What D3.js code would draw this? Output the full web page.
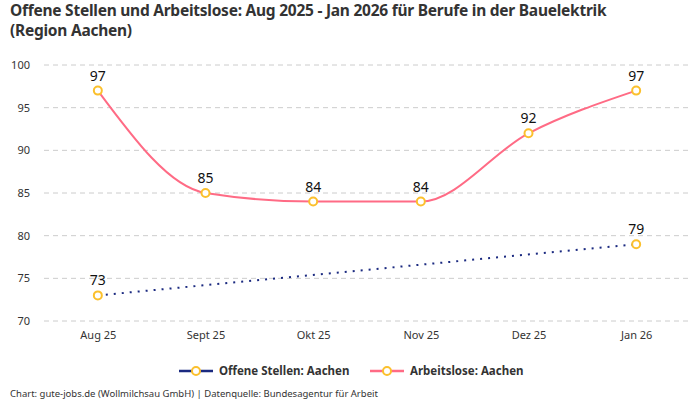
<!doctype html>
<html lang="de">
<head>
<meta charset="UTF-8" />
<title>Offene Stellen und Arbeitslose</title>
<script src="https://d3js.org/d3.v7.min.js"></script>
<style>
    body, html {
        margin: 0;
        padding: 0;
        background: #fff;
        overflow: hidden;
    }
    svg {
        display: block;
        font-family: "Noto Sans", "DejaVu Sans", sans-serif;
    }
    .grid line {
        stroke: #ccc;
        stroke-dasharray: 5 4;
    }
</style>
</head>
<body>
<svg id="chart" width="700" height="400"></svg>
<script>
    // data
    const months = ["Aug 25", "Sept 25", "Okt 25", "Nov 25", "Dez 25", "Jan 26"];
    const offeneStellen = [73, null, null, null, null, 79];
    const arbeitslose = [97, 85, 84, 84, 92, 97];
    const yTicks = [70, 75, 80, 85, 90, 95, 100];
    const titleLines = [
        "Offene Stellen und Arbeitslose: Aug 2025 - Jan 2026 für Berufe in der Bauelektrik",
        "(Region Aachen)"
    ];
    const seriesNames = ["Offene Stellen: Aachen", "Arbeitslose: Aachen"];
    const seriesColors = ["#1b2a80", "#ff6b85"];

    const svg = d3.select("#chart");
    const plotLeft = 44, plotRight = 690, plotTop = 65, plotBottom = 321;

    const x = d3.scalePoint().domain(months).range([plotLeft, plotRight]).padding(0.5);
    const y = d3.scaleLinear().domain([70, 100]).range([plotBottom, plotTop]);

    // title, one text per line
    svg.append("g").selectAll("text")
        .data(titleLines)
        .join("text")
        .attr("x", 10)
        .attr("y", (d, i) => 16 + i * 20)
        .attr("font-size", 15.5)
        .attr("letter-spacing", -0.25)
        .attr("font-weight", "bold")
        .attr("fill", "#333")
        .text(d => d);

    // grid lines
    svg.append("g")
        .attr("class", "grid")
        .selectAll("line")
        .data(yTicks)
        .join("line")
        .attr("x1", plotLeft)
        .attr("x2", 692)
        .attr("y1", d => y(d))
        .attr("y2", d => y(d));

    // y axis
    const yAxis = svg.append("g")
        .attr("transform", `translate(${plotLeft - 14},0)`)
        .call(d3.axisLeft(y).tickValues(yTicks).tickSize(0).tickPadding(0));
    yAxis.select(".domain").remove();
    yAxis.selectAll("text").attr("font-size", 11).attr("fill", "#333")
        .attr("font-family", "Noto Sans, sans-serif");

    // x axis
    const xAxis = svg.append("g")
        .attr("transform", `translate(0,${plotBottom})`)
        .call(d3.axisBottom(x).tickSize(0).tickPadding(10));
    xAxis.select(".domain").remove();
    xAxis.selectAll("text").attr("font-size", 11).attr("fill", "#333")
        .attr("font-family", "Noto Sans, sans-serif");

    // Offene Stellen: only endpoints known, straight dotted line
    const osPoints = months.map((m, i) => ({ m, v: offeneStellen[i] })).filter(d => d.v != null);
    svg.append("path")
        .datum(osPoints)
        .attr("fill", "none")
        .attr("stroke", seriesColors[0])
        .attr("stroke-width", 2)
        .attr("stroke-dasharray", "2 6")
        .attr("d", d3.line().x(d => x(d.m)).y(d => y(d.v)));

    // Arbeitslose: smooth line
    const alPoints = months.map((m, i) => ({ m, v: arbeitslose[i] }));
    svg.append("path")
        .datum(alPoints)
        .attr("fill", "none")
        .attr("stroke", seriesColors[1])
        .attr("stroke-width", 2)
        .attr("d", d3.line().curve(d3.curveMonotoneX).x(d => x(d.m)).y(d => y(d.v)));

    // markers and labels
    [osPoints, alPoints].forEach(pts => {
        svg.append("g").selectAll("circle")
            .data(pts)
            .join("circle")
            .attr("cx", d => x(d.m))
            .attr("cy", d => y(d.v))
            .attr("r", 4)
            .attr("fill", "#fff")
            .attr("stroke", "#fbc02d")
            .attr("stroke-width", 2);

        svg.append("g").selectAll("text")
            .data(pts)
            .join("text")
            .attr("x", d => x(d.m))
            .attr("y", d => y(d.v) - 10)
            .attr("text-anchor", "middle")
            .attr("font-size", 14)
            .attr("fill", "#111")
            .text(d => d.v);
    });

    // legend
    const legend = svg.append("g").attr("transform", "translate(0,371)");
    const legendX = [179, 370];
    seriesNames.forEach((name, i) => {
        const g = legend.append("g").attr("transform", `translate(${legendX[i]},0)`);
        g.append("line")
            .attr("x1", 0).attr("x2", 34)
            .attr("stroke", seriesColors[i])
            .attr("stroke-width", 2.5);
        g.append("circle")
            .attr("cx", 17).attr("r", 4)
            .attr("fill", "#fff")
            .attr("stroke", "#fbc02d")
            .attr("stroke-width", 2);
        g.append("text")
            .attr("x", 40)
            .attr("dy", "0.35em")
            .attr("font-size", 11.5)
            .attr("font-weight", "bold")
            .attr("fill", "#333")
            .text(name);
    });

    // footer
    svg.append("text")
        .attr("x", 10)
        .attr("y", 397)
        .attr("font-size", 9.5)
        .attr("fill", "#333")
        .text("Chart: gute-jobs.de (Wollmilchsau GmbH) | Datenquelle: Bundesagentur für Arbeit");
</script>
</body>
</html>
